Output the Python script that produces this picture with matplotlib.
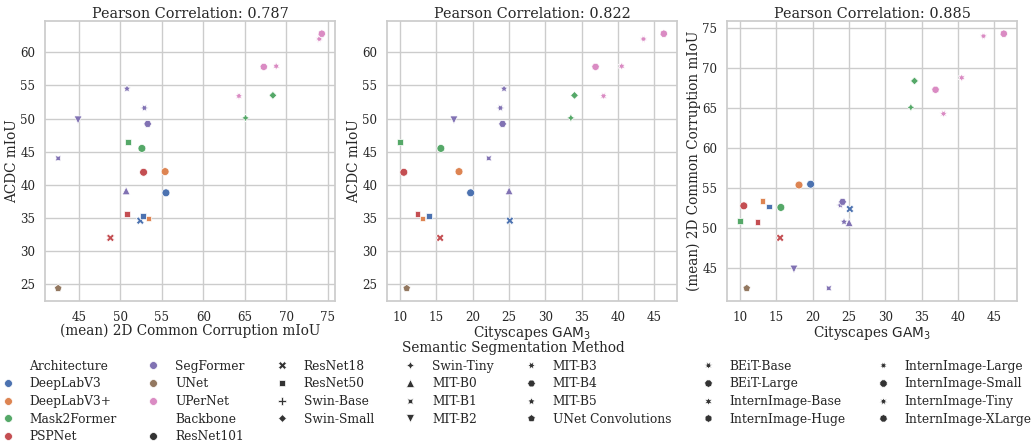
import numpy as np
import pandas as pd
import matplotlib

matplotlib.use("Agg")
import matplotlib.pyplot as plt
import seaborn as sns

# ── data ──────────────────────────────────────────────────────────────────────
arch_order = ["DeepLabV3", "DeepLabV3+", "Mask2Former", "PSPNet", "SegFormer", "UNet", "UPerNet"]
backbone_order = [
    "ResNet101", "ResNet18", "ResNet50", "Swin-Base", "Swin-Small", "Swin-Tiny",
    "MIT-B0", "MIT-B1", "MIT-B2", "MIT-B3", "MIT-B4", "MIT-B5", "UNet Convolutions",
    "BEiT-Base", "BEiT-Large", "InternImage-Base", "InternImage-Huge",
    "InternImage-Large", "InternImage-Small", "InternImage-Tiny", "InternImage-XLarge",
]

architecture = (
    ["DeepLabV3"] * 3 + ["DeepLabV3+"] * 2 + ["Mask2Former"] * 5 + ["PSPNet"] * 3
    + ["SegFormer"] * 6 + ["UNet"] + ["UPerNet"] * 8
)
backbone = [
    "ResNet101", "ResNet18", "ResNet50",
    "ResNet101", "ResNet50",
    "ResNet101", "ResNet50", "Swin-Base", "Swin-Small", "Swin-Tiny",
    "ResNet101", "ResNet18", "ResNet50",
    "MIT-B0", "MIT-B1", "MIT-B2", "MIT-B3", "MIT-B4", "MIT-B5",
    "UNet Convolutions",
    "BEiT-Base", "BEiT-Large", "InternImage-Base", "InternImage-Huge",
    "InternImage-Large", "InternImage-Small", "InternImage-Tiny", "InternImage-XLarge",
]
nan = np.nan
acdc_miou = [
    38.8, 34.6, 35.3,
    42.0, 34.9,
    45.5, 46.5, nan, 53.5, 50.1,
    41.9, 32.0, 35.6,
    39.1, 44.0, 49.8, 51.6, 49.2, 54.5,
    24.4,
    53.4, 57.8, 57.9, nan, 62.0, nan, nan, 62.8,
]
corruption_miou = [
    55.5, 52.4, 52.7,
    55.4, 53.4,
    52.6, 50.9, nan, 68.4, 65.1,
    52.8, 48.8, 50.8,
    50.7, 42.5, 44.9, 52.9, 53.3, 50.8,
    42.5,
    64.3, 67.3, 68.8, nan, 74.0, nan, nan, 74.3,
]
gam3 = [
    19.7, 25.1, 14.0,
    18.1, 13.1,
    15.6, 10.0, nan, 34.0, 33.5,
    10.5, 15.5, 12.4,
    25.0, 22.2, 17.4, 23.8, 24.1, 24.3,
    10.9,
    38.0, 36.9, 40.5, nan, 43.5, nan, nan, 46.3,
]
pearson = ["0.787", "0.822", "0.885"]

df = pd.DataFrame({
    "Architecture": architecture,
    "Backbone": backbone,
    "ACDC": acdc_miou,
    "CC": corruption_miou,
    "GAM": gam3,
})

# ── style ─────────────────────────────────────────────────────────────────────
sns.set_theme(style="whitegrid", font="serif")
plt.rcParams["font.family"] = ["DejaVu Serif"]
TICK, LAB, TTL, LEG = 8.6, 9.8, 10.4, 8.8

W, H = 1035, 445
fig = plt.figure(figsize=(W / 100, H / 100), dpi=100)
lefts = [45, 387, 727]
ax_w, top, bottom = 290, 21, 301
axes = [
    fig.add_axes([l / W, 1 - bottom / H, ax_w / W, (bottom - top) / H]) for l in lefts
]

panels = [
    ("CC", "ACDC", "(mean) 2D Common Corruption mIoU", "ACDC mIoU"),
    ("GAM", "ACDC", "Cityscapes $\\mathrm{GAM}_3$", "ACDC mIoU"),
    ("GAM", "CC", "Cityscapes $\\mathrm{GAM}_3$", "(mean) 2D Common Corruption mIoU"),
]

for ax, (xc, yc, xl, yl), r in zip(axes, panels, pearson):
    sns.scatterplot(
        data=df, x=xc, y=yc, hue="Architecture", style="Backbone",
        hue_order=arch_order, style_order=backbone_order,
        palette="deep", s=32, linewidth=0.5, edgecolor="white",
        legend="full", ax=ax,
    )
    ax.set_title(f"Pearson Correlation: {r}", fontsize=TTL, pad=2)
    ax.set_xlabel(xl, fontsize=LAB, labelpad=0)
    ax.set_ylabel(yl, fontsize=LAB, labelpad=1)
    ax.tick_params(labelsize=TICK, pad=1)

handles, labels = axes[0].get_legend_handles_labels()
for ax in axes:
    ax.get_legend().remove()

fig.legend(
    handles, labels, loc="upper center",
    bbox_to_anchor=(0.5 - 4 / W, 1 - 341 / H),
    ncol=7, frameon=False, fontsize=LEG, title="Semantic Segmentation Method",
    title_fontsize=LAB, borderaxespad=0, borderpad=0, labelspacing=0.38,
    columnspacing=2.0, handletextpad=0.8,
)

fig.savefig("out.png", dpi=100)
